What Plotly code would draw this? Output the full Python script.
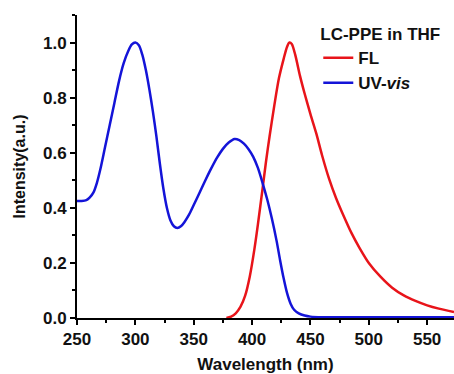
import plotly.graph_objects as go

uv_x = [250, 254, 258, 261, 264, 267, 270, 274, 278, 282, 286, 290, 294, 297, 300, 303, 306, 309, 312, 315, 318, 321, 324, 327, 330, 333, 336, 339, 342, 346, 350, 355, 360, 365, 370, 375, 380, 385, 389, 393, 397, 401, 405, 409, 413, 417, 421, 424, 427, 430, 433, 436, 440, 445, 450, 460, 500, 540, 573]
uv_y = [0.425, 0.425, 0.428, 0.438, 0.455, 0.49, 0.54, 0.62, 0.70, 0.78, 0.86, 0.925, 0.97, 0.993, 1.0, 0.99, 0.955, 0.90, 0.83, 0.75, 0.66, 0.56, 0.47, 0.40, 0.355, 0.333, 0.327, 0.333, 0.348, 0.375, 0.41, 0.455, 0.50, 0.543, 0.582, 0.614, 0.637, 0.65, 0.646, 0.633, 0.613, 0.585, 0.545, 0.49, 0.43, 0.36, 0.28, 0.21, 0.145, 0.09, 0.052, 0.03, 0.017, 0.009, 0.005, 0.003, 0.003, 0.003, 0.003]

fl_x = [378, 382, 386, 390, 394, 398, 402, 405, 409, 412, 415, 419, 423, 427, 430, 432, 434, 437, 441, 445, 450, 455, 460, 466, 472, 478, 485, 492, 500, 510, 520, 530, 540, 550, 560, 573]
fl_y = [0.0, 0.005, 0.017, 0.04, 0.08, 0.15, 0.25, 0.34, 0.47, 0.57, 0.66, 0.77, 0.87, 0.94, 0.985, 1.0, 0.995, 0.955, 0.88, 0.815, 0.74, 0.67, 0.59, 0.505, 0.435, 0.375, 0.31, 0.255, 0.20, 0.15, 0.11, 0.082, 0.062, 0.046, 0.034, 0.022]

x_ticks = [250, 300, 350, 400, 450, 500, 550]
y_ticks = [0.0, 0.2, 0.4, 0.6, 0.8, 1.0]

RED = "#e8141a"
BLUE = "#1414d8"
FAM = "Liberation Sans, Arial, sans-serif"
font = dict(family=FAM, size=17, color="#111111")

fig = go.Figure()
fig.add_trace(go.Scatter(x=fl_x, y=fl_y, mode="lines", name="<b>FL</b>",
                         line=dict(color=RED, width=2.5, shape="spline", smoothing=0.8)))
fig.add_trace(go.Scatter(x=uv_x, y=uv_y, mode="lines", name="<b>UV-<i>vis</i></b>",
                         line=dict(color=BLUE, width=2.5, shape="spline", smoothing=0.8)))

axis_common = dict(showline=True, linecolor="black", linewidth=2, ticks="outside",
                   ticklen=5, tickwidth=2, tickcolor="black", showgrid=False, zeroline=False,
                   automargin=False,
                   tickfont=dict(family=FAM, size=17, color="#111111"))

fig.update_layout(
    width=454, height=374,
    margin=dict(l=77, r=0, t=15, b=56),
    paper_bgcolor="white", plot_bgcolor="white",
    font=font,
    showlegend=True,
    legend=dict(title=dict(text="<b>LC-PPE in THF</b>", font=dict(family=FAM, size=17)),
                x=0.64, y=0.99, xanchor="left", yanchor="top",
                bgcolor="rgba(0,0,0,0)", borderwidth=0,
                font=dict(family=FAM, size=17), tracegroupgap=0, itemwidth=30),
    xaxis=dict(range=[250, 573], tickvals=x_ticks, ticktext=[f"<b>{v}</b>" for v in x_ticks],
               title=dict(text="<b>Wavelength (nm)</b>", standoff=16, font=dict(family=FAM, size=17)),
               minor=dict(ticks="outside", ticklen=3, tickwidth=2, tickcolor="black", dtick=25, tick0=250),
               **axis_common),
    yaxis=dict(range=[0, 1.1], tickvals=y_ticks, ticktext=[f"<b>{v:.1f}</b>" for v in y_ticks],
               title=dict(text="<b>Intensity(a.u.)</b>", standoff=13, font=dict(family=FAM, size=16)),
               minor=dict(ticks="outside", ticklen=3, tickwidth=2, tickcolor="black", dtick=0.1, tick0=0),
               **axis_common),
)

fig.write_html("out.html")
